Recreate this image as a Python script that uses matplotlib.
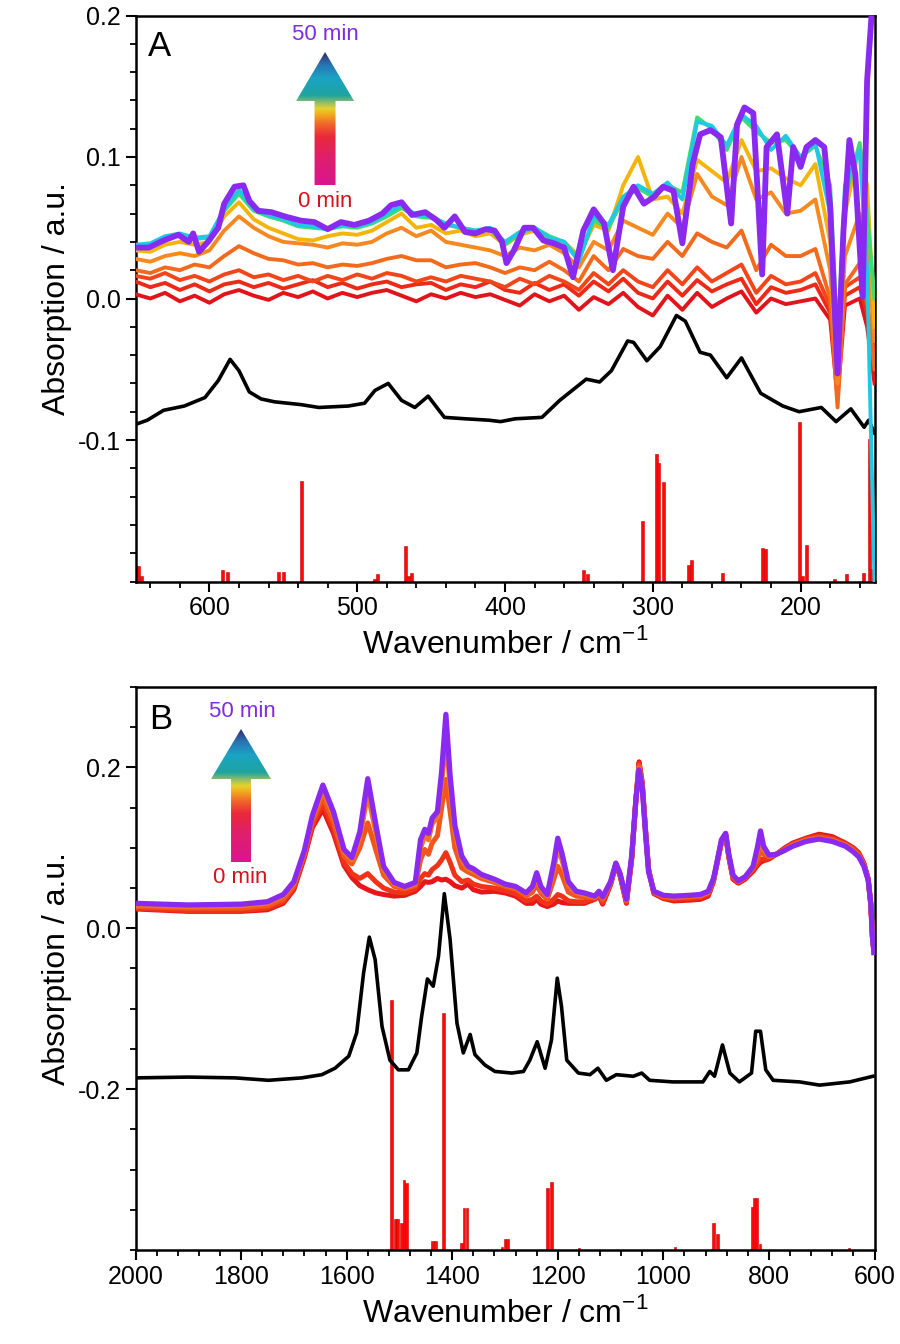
import numpy as np
import matplotlib
matplotlib.use("Agg")
import matplotlib.pyplot as plt
from matplotlib.patches import Polygon
from matplotlib.ticker import MultipleLocator, FormatStrFormatter
from matplotlib.colors import LinearSegmentedColormap

plt.rcParams['font.family'] = ['Liberation Sans', 'DejaVu Sans']
plt.rcParams['axes.unicode_minus'] = False

# ---------------- Panel A (far IR) ----------------
# reference spectrum (black)
a_ref_x = [650, 642, 631, 617, 603, 594, 586, 580, 573, 565, 556, 538, 526, 506, 495, 488, 479, 470, 461, 452,
           441, 427, 411, 403, 393, 375, 363, 345, 336, 328, 317, 313, 304, 295, 284, 278, 268, 261, 250, 240,
           227, 212, 201, 186, 176, 166, 157, 154, 150]
a_ref_y = [-0.089, -0.086, -0.079, -0.076, -0.070, -0.058, -0.043, -0.051, -0.066, -0.071, -0.073, -0.075, -0.077,
           -0.076, -0.074, -0.065, -0.060, -0.072, -0.077, -0.069, -0.084, -0.085, -0.086, -0.087, -0.085, -0.084,
           -0.072, -0.057, -0.059, -0.051, -0.030, -0.031, -0.044, -0.034, -0.012, -0.016, -0.038, -0.040, -0.056,
           -0.042, -0.067, -0.076, -0.080, -0.077, -0.087, -0.078, -0.091, -0.086, -0.095]

# 50 min spectrum (purple)
a_end_x = [650, 641, 631, 621, 614, 611, 607, 601, 594, 590, 583, 577, 573, 567, 558, 549, 538, 529, 520, 511,
           502, 492, 483, 477, 470, 463, 454, 447, 441, 434, 427, 420, 413, 407, 402, 399, 394, 387, 381, 374,
           367, 360, 354, 347, 340, 333, 327, 320, 313, 306, 299, 293, 286, 280, 273, 268, 261, 254, 247, 243,
           238, 232, 226, 223, 216, 209, 205, 200, 196, 190, 184, 180, 175, 171, 167, 163, 158, 155, 152, 150]
a_end_y = [0.036, 0.036, 0.041, 0.045, 0.040, 0.046, 0.033, 0.040, 0.050, 0.067, 0.079, 0.080, 0.069, 0.062, 0.061,
           0.058, 0.055, 0.054, 0.049, 0.054, 0.052, 0.055, 0.060, 0.066, 0.068, 0.059, 0.061, 0.056, 0.050, 0.058,
           0.047, 0.046, 0.049, 0.048, 0.040, 0.025, 0.034, 0.050, 0.050, 0.041, 0.039, 0.036, 0.015, 0.048, 0.063,
           0.053, 0.020, 0.065, 0.079, 0.067, 0.072, 0.079, 0.076, 0.039, 0.095, 0.116, 0.119, 0.114, 0.053, 0.123,
           0.135, 0.131, 0.017, 0.107, 0.116, 0.060, 0.107, 0.093, 0.107, 0.112, 0.107, 0.065, -0.053, 0.048, 0.112,
           0.088, 0.001, 0.154, 0.200, 0.210]

# intermediate spectra (0 min ... 40 min)
a_x = [650, 640, 630, 620, 610, 600, 590, 580, 570, 560,
       550, 540, 530, 520, 510, 500, 490, 480, 470, 460,
       450, 440, 430, 420, 410, 400, 390, 380, 370, 360,
       350, 340, 330, 320, 310, 300, 290, 280, 270, 260,
       250, 240, 230, 220, 210, 200, 190, 180, 175, 170,
       160, 155, 150]
a_t0 = [0.003, 0.000, 0.004, -0.002, 0.002, -0.003, 0.003, 0.006, 0.002, -0.001,
        0.004, 0.001, 0.005, 0.000, 0.004, 0.001, 0.004, 0.006, 0.002, -0.002,
        0.003, 0.000, 0.004, 0.001, 0.003, -0.001, -0.005, 0.003, -0.002, 0.002,
        -0.008, 0.001, -0.004, 0.004, -0.006, -0.012, 0.002, -0.008, 0.004, -0.006,
        0.000, 0.005, -0.010, 0.000, -0.004, -0.002, 0.000, -0.015, -0.070, -0.005,
        0.000, -0.020, -0.060]
a_t1 = [0.012, 0.008, 0.011, 0.006, 0.010, 0.005, 0.010, 0.012, 0.008, 0.011,
        0.007, 0.010, 0.013, 0.008, 0.011, 0.007, 0.010, 0.012, 0.008, 0.010,
        0.011, 0.006, 0.010, 0.008, 0.012, 0.006, 0.004, 0.011, 0.006, 0.010,
        0.002, 0.012, 0.005, 0.014, 0.004, 0.000, 0.012, 0.002, 0.013, 0.005,
        0.010, 0.014, -0.004, 0.008, 0.004, 0.006, 0.010, -0.010, -0.060, 0.002,
        0.008, -0.010, -0.050]
a_t2 = [0.016, 0.014, 0.018, 0.013, 0.016, 0.012, 0.017, 0.020, 0.015, 0.017,
        0.013, 0.016, 0.012, 0.016, 0.013, 0.017, 0.014, 0.018, 0.016, 0.012,
        0.015, 0.012, 0.016, 0.014, 0.012, 0.008, 0.014, 0.010, 0.016, 0.012,
        0.006, 0.018, 0.010, 0.020, 0.012, 0.008, 0.020, 0.010, 0.022, 0.012,
        0.018, 0.024, 0.004, 0.016, 0.010, 0.012, 0.018, -0.005, -0.060, 0.008,
        0.015, -0.005, -0.040]
a_t3 = [0.020, 0.018, 0.022, 0.020, 0.024, 0.022, 0.030, 0.037, 0.032, 0.028,
        0.027, 0.024, 0.025, 0.022, 0.024, 0.023, 0.025, 0.028, 0.030, 0.027,
        0.027, 0.022, 0.024, 0.025, 0.022, 0.018, 0.022, 0.020, 0.026, 0.020,
        0.012, 0.030, 0.020, 0.035, 0.030, 0.028, 0.040, 0.030, 0.046, 0.040,
        0.036, 0.048, 0.020, 0.038, 0.030, 0.030, 0.035, 0.000, -0.077, 0.010,
        0.025, 0.000, -0.050]
a_t4 = [0.028, 0.026, 0.030, 0.032, 0.030, 0.034, 0.048, 0.058, 0.050, 0.044,
        0.040, 0.039, 0.038, 0.036, 0.039, 0.038, 0.040, 0.046, 0.050, 0.044,
        0.048, 0.040, 0.038, 0.036, 0.034, 0.030, 0.036, 0.034, 0.038, 0.032,
        0.022, 0.040, 0.034, 0.055, 0.050, 0.045, 0.060, 0.050, 0.088, 0.072,
        0.066, 0.100, 0.070, 0.075, 0.060, 0.062, 0.070, 0.020, -0.060, 0.030,
        0.060, 0.040, -0.030]
a_t5 = [0.034, 0.033, 0.038, 0.040, 0.038, 0.040, 0.058, 0.068, 0.056, 0.050,
        0.046, 0.042, 0.041, 0.044, 0.046, 0.045, 0.048, 0.054, 0.060, 0.050,
        0.052, 0.046, 0.048, 0.044, 0.046, 0.038, 0.045, 0.048, 0.042, 0.040,
        0.030, 0.052, 0.048, 0.080, 0.100, 0.070, 0.072, 0.060, 0.098, 0.090,
        0.082, 0.112, 0.090, 0.092, 0.085, 0.080, 0.095, 0.040, -0.040, 0.060,
        0.108, 0.080, -0.020]
a_t6 = [0.037, 0.038, 0.043, 0.045, 0.042, 0.043, 0.062, 0.074, 0.062, 0.058,
        0.055, 0.051, 0.050, 0.049, 0.051, 0.050, 0.053, 0.058, 0.064, 0.058,
        0.057, 0.052, 0.050, 0.048, 0.049, 0.038, 0.046, 0.050, 0.044, 0.040,
        0.028, 0.055, 0.050, 0.070, 0.078, 0.072, 0.080, 0.075, 0.128, 0.120,
        0.105, 0.128, 0.118, 0.110, 0.112, 0.100, 0.108, 0.080, -0.030, 0.070,
        0.110, 0.060, 0.000]
a_t7 = [0.038, 0.039, 0.044, 0.046, 0.043, 0.044, 0.063, 0.077, 0.063, 0.059,
        0.056, 0.052, 0.051, 0.049, 0.052, 0.051, 0.054, 0.060, 0.066, 0.059,
        0.058, 0.053, 0.050, 0.048, 0.050, 0.040, 0.047, 0.050, 0.043, 0.040,
        0.026, 0.058, 0.052, 0.072, 0.080, 0.074, 0.082, 0.070, 0.125, 0.122,
        0.108, 0.130, 0.122, 0.105, 0.115, 0.100, 0.110, 0.060, -0.040, 0.080,
        0.105, 0.020, -0.200]
a_series = [a_t0, a_t1, a_t2, a_t3, a_t4, a_t5, a_t6, a_t7]
a_colors = ['#e2141b', '#ec2a17', '#f2461a', '#f26a1e', '#f5891f', '#f4b40a', '#3ddc6e', '#1fc9e6']

# calculated modes (sticks)
a_stick_x = [648, 646, 591, 588, 553, 550, 538, 488, 486, 467, 465, 463, 347, 344, 307, 297.5, 296, 293,
             276, 274, 253, 225.5, 224, 200.5, 199, 196, 177, 169, 157.5, 153.5, 152]
a_stick_top = [-0.189, -0.196, -0.192, -0.193, -0.193, -0.193, -0.129, -0.198, -0.195, -0.175, -0.196, -0.194,
               -0.192, -0.195, -0.157, -0.110, -0.116, -0.130, -0.188, -0.185, -0.194, -0.176, -0.177, -0.087,
               -0.196, -0.174, -0.198, -0.195, -0.194, -0.099, -0.191]

# ---------------- Panel B (mid IR) ----------------
b_ref_x = [2000, 1900, 1811, 1748, 1685, 1647, 1622, 1596, 1581, 1568, 1557, 1546, 1533, 1518, 1502, 1483, 1467,
           1458, 1447, 1436, 1426, 1415, 1404, 1391, 1379, 1366, 1357, 1338, 1319, 1287, 1265, 1253, 1239, 1224,
           1212, 1201, 1193, 1183, 1161, 1139, 1124, 1108, 1089, 1057, 1041, 1026, 982, 925, 912, 903, 888, 874,
           856, 833, 825, 816, 806, 792, 742, 704, 647, 603]
b_ref_y = [-0.186, -0.185, -0.186, -0.189, -0.186, -0.182, -0.174, -0.159, -0.130, -0.056, -0.011, -0.039,
           -0.122, -0.164, -0.176, -0.176, -0.155, -0.110, -0.063, -0.072, -0.035, 0.043, -0.014, -0.118,
           -0.155, -0.132, -0.157, -0.170, -0.178, -0.180, -0.178, -0.164, -0.141, -0.174, -0.139, -0.062,
           -0.097, -0.164, -0.180, -0.182, -0.174, -0.189, -0.182, -0.184, -0.180, -0.189, -0.191, -0.191,
           -0.178, -0.184, -0.145, -0.180, -0.191, -0.180, -0.128, -0.128, -0.176, -0.189, -0.191, -0.195,
           -0.191, -0.184]

b_x = [2000, 1900, 1800, 1750, 1720, 1700, 1680, 1665, 1645, 1625,
       1605, 1590, 1575, 1560, 1545, 1530, 1510, 1490, 1470, 1460,
       1452, 1445, 1438, 1428, 1420, 1412, 1404, 1395, 1382, 1370,
       1360, 1345, 1320, 1300, 1280, 1260, 1248, 1240, 1232, 1220,
       1208, 1200, 1192, 1180, 1165, 1150, 1130, 1122, 1115, 1100,
       1090, 1082, 1070, 1060, 1052, 1046, 1040, 1034, 1028, 1018,
       1000, 980, 950, 930, 915, 905, 900, 890, 882, 876,
       868, 858, 845, 830, 822, 816, 810, 800, 786, 770,
       755, 730, 705, 680, 655, 640, 630, 620, 612, 607,
       604, 601]
b_t0 = [0.024, 0.021, 0.021, 0.023, 0.031, 0.048, 0.088, 0.125, 0.148, 0.118,
        0.078, 0.063, 0.053, 0.048, 0.044, 0.042, 0.040, 0.041, 0.046, 0.052,
        0.058, 0.057, 0.058, 0.062, 0.060, 0.061, 0.058, 0.053, 0.050, 0.055,
        0.048, 0.045, 0.046, 0.044, 0.040, 0.031, 0.031, 0.036, 0.030, 0.027,
        0.030, 0.034, 0.032, 0.031, 0.031, 0.031, 0.036, 0.040, 0.030, 0.054,
        0.079, 0.065, 0.031, 0.085, 0.160, 0.207, 0.182, 0.125, 0.074, 0.043,
        0.037, 0.034, 0.035, 0.036, 0.040, 0.058, 0.075, 0.106, 0.115, 0.088,
        0.061, 0.056, 0.061, 0.071, 0.078, 0.082, 0.084, 0.086, 0.092, 0.100,
        0.106, 0.112, 0.117, 0.114, 0.106, 0.100, 0.094, 0.081, 0.062, 0.030,
        -0.010, -0.030]
b_t1 = [0.025, 0.022, 0.022, 0.025, 0.033, 0.050, 0.090, 0.128, 0.155, 0.124,
        0.082, 0.068, 0.062, 0.068, 0.058, 0.050, 0.045, 0.044, 0.049, 0.062,
        0.068, 0.066, 0.073, 0.078, 0.085, 0.094, 0.082, 0.066, 0.058, 0.060,
        0.055, 0.052, 0.050, 0.047, 0.043, 0.034, 0.036, 0.040, 0.034, 0.030,
        0.036, 0.042, 0.040, 0.034, 0.033, 0.033, 0.037, 0.041, 0.032, 0.055,
        0.080, 0.066, 0.032, 0.087, 0.160, 0.205, 0.180, 0.124, 0.073, 0.044,
        0.038, 0.036, 0.037, 0.038, 0.042, 0.059, 0.076, 0.107, 0.116, 0.089,
        0.062, 0.057, 0.062, 0.073, 0.080, 0.086, 0.086, 0.087, 0.092, 0.099,
        0.105, 0.111, 0.115, 0.112, 0.105, 0.099, 0.093, 0.080, 0.061, 0.030,
        -0.010, -0.030]
b_t2 = [0.027, 0.025, 0.025, 0.028, 0.036, 0.053, 0.093, 0.133, 0.163, 0.132,
        0.090, 0.080, 0.100, 0.131, 0.098, 0.066, 0.052, 0.049, 0.053, 0.085,
        0.098, 0.092, 0.106, 0.115, 0.150, 0.185, 0.145, 0.100, 0.075, 0.070,
        0.067, 0.062, 0.057, 0.052, 0.049, 0.040, 0.045, 0.054, 0.044, 0.036,
        0.060, 0.077, 0.066, 0.045, 0.040, 0.039, 0.038, 0.043, 0.035, 0.056,
        0.080, 0.067, 0.034, 0.088, 0.160, 0.202, 0.178, 0.122, 0.072, 0.045,
        0.039, 0.038, 0.039, 0.040, 0.044, 0.060, 0.076, 0.108, 0.117, 0.090,
        0.064, 0.058, 0.063, 0.075, 0.085, 0.098, 0.092, 0.089, 0.092, 0.098,
        0.104, 0.110, 0.113, 0.110, 0.104, 0.097, 0.091, 0.079, 0.061, 0.030,
        -0.010, -0.030]
b_t3 = [0.029, 0.027, 0.028, 0.031, 0.040, 0.056, 0.095, 0.137, 0.172, 0.140,
        0.095, 0.085, 0.112, 0.168, 0.120, 0.073, 0.055, 0.051, 0.055, 0.100,
        0.115, 0.110, 0.130, 0.138, 0.180, 0.239, 0.175, 0.118, 0.085, 0.074,
        0.071, 0.065, 0.059, 0.054, 0.051, 0.043, 0.050, 0.064, 0.049, 0.040,
        0.072, 0.100, 0.085, 0.054, 0.044, 0.042, 0.039, 0.045, 0.038, 0.057,
        0.081, 0.068, 0.035, 0.089, 0.160, 0.199, 0.176, 0.121, 0.071, 0.046,
        0.040, 0.039, 0.040, 0.041, 0.045, 0.061, 0.077, 0.109, 0.118, 0.091,
        0.065, 0.059, 0.064, 0.076, 0.095, 0.112, 0.098, 0.090, 0.092, 0.097,
        0.103, 0.109, 0.112, 0.109, 0.103, 0.096, 0.090, 0.078, 0.060, 0.030,
        -0.010, -0.030]
b_end = [0.031, 0.029, 0.030, 0.033, 0.042, 0.058, 0.097, 0.140, 0.178, 0.145,
         0.098, 0.088, 0.120, 0.186, 0.130, 0.077, 0.057, 0.052, 0.057, 0.110,
         0.123, 0.118, 0.137, 0.145, 0.195, 0.266, 0.190, 0.128, 0.090, 0.077,
         0.074, 0.067, 0.061, 0.055, 0.052, 0.044, 0.052, 0.069, 0.052, 0.042,
         0.080, 0.112, 0.093, 0.058, 0.046, 0.044, 0.040, 0.046, 0.039, 0.058,
         0.081, 0.068, 0.036, 0.090, 0.160, 0.197, 0.175, 0.120, 0.070, 0.046,
         0.041, 0.040, 0.041, 0.042, 0.046, 0.062, 0.077, 0.110, 0.118, 0.092,
         0.066, 0.059, 0.064, 0.077, 0.100, 0.121, 0.102, 0.091, 0.092, 0.097,
         0.102, 0.108, 0.111, 0.108, 0.102, 0.095, 0.089, 0.077, 0.060, 0.030,
         -0.010, -0.030]
b_series = [b_t0, b_t1, b_t2, b_t3]
b_colors = ['#e8161a', '#ef3318', '#f2561d', '#f47322']

b_stick_x = [1515, 1508, 1504, 1496, 1491, 1486, 1437, 1432, 1416, 1383, 1378, 1372, 1306, 1300, 1295,
             1219, 1212, 1160, 978, 905, 898, 832, 828, 823, 817, 648]
b_stick_top = [-0.089, -0.362, -0.362, -0.367, -0.313, -0.317, -0.389, -0.389, -0.105, -0.391, -0.348, -0.348,
               -0.396, -0.386, -0.386, -0.323, -0.316, -0.397, -0.396, -0.367, -0.380, -0.346, -0.335, -0.335,
               -0.392, -0.397]

purple = '#8a2af0'
arrow_cmap = LinearSegmentedColormap.from_list('arrow', [
    (0.0, '#d8168e'), (0.22, '#e01f6a'), (0.36, '#ea283a'), (0.46, '#f06a2a'), (0.53, '#f2ae1e'),
    (0.57, '#e6d22e'), (0.61, '#9cc060'), (0.67, '#1fa3a0'), (0.8, '#1aa4c4'), (0.9, '#2a72b2'),
    (1.0, '#30286e')])


def gradient_arrow(ax, xc, y0, y1, yh, shaft_w, head_w):
    pts = [(xc - shaft_w / 2, y0), (xc + shaft_w / 2, y0), (xc + shaft_w / 2, yh), (xc + head_w / 2, yh),
           (xc, y1), (xc - head_w / 2, yh), (xc - shaft_w / 2, yh)]
    poly = Polygon(pts, closed=True, transform=ax.transAxes, facecolor='none', edgecolor='none')
    ax.add_patch(poly)
    grad = np.linspace(0, 1, 256).reshape(-1, 1)
    im = ax.imshow(grad, cmap=arrow_cmap, origin='lower', aspect='auto',
                   extent=[xc - head_w / 2, xc + head_w / 2, y0, y1], transform=ax.transAxes, zorder=6)
    im.set_clip_path(poly)


def style_axes(ax):
    for s in ax.spines.values():
        s.set_linewidth(1.8)
    ax.tick_params(which='major', direction='out', length=7, width=1.5, labelsize=18, top=False, right=False)
    ax.tick_params(which='minor', direction='out', length=4, width=1.3, top=False, right=False)
    ax.set_ylabel('Absorption / a.u.', fontsize=23)
    ax.set_xlabel(r'Wavenumber / cm$^{\mathregular{-1}}$', fontsize=23, labelpad=6)


fig = plt.figure(figsize=(9, 13.44), dpi=100)
axA = fig.add_axes([135.5 / 900, 1 - 581.5 / 1344, 739 / 900, 566 / 1344])
axB = fig.add_axes([135.5 / 900, 1 - 1250 / 1344, 739 / 900, 563 / 1344])

# panel A
axA.bar(a_stick_x, np.array(a_stick_top) + 0.2, bottom=-0.2, width=2.0, color='#ff0a0a',
        edgecolor='#c80000', linewidth=0.4, zorder=2)
axA.plot(a_ref_x, a_ref_y, color='black', lw=2.6, zorder=3)
for yy, c in zip(a_series, a_colors):
    axA.plot(a_x, yy, color=c, lw=2.8, zorder=3)
axA.plot(a_end_x, a_end_y, color=purple, lw=4.2, zorder=4)
axA.set_xticks([600, 500, 400, 300, 200])
axA.xaxis.set_minor_locator(MultipleLocator(20))
axA.set_yticks([-0.1, 0.0, 0.1, 0.2])
axA.yaxis.set_minor_locator(MultipleLocator(0.02))
axA.yaxis.set_major_formatter(FormatStrFormatter('%.1f'))
style_axes(axA)
gradient_arrow(axA, 0.2565, 0.7005, 0.9355, 0.849, 0.0284, 0.0785)
axA.text(0.2565, 0.966, '50 min', color='#7f2ce0', fontsize=16, ha='center', va='center', transform=axA.transAxes)
axA.text(0.2565, 0.672, '0 min', color='#d4121c', fontsize=16, ha='center', va='center', transform=axA.transAxes)
axA.text(0.032, 0.946, 'A', fontsize=25, ha='center', va='center', transform=axA.transAxes)
axA.set_xlim(650, 150)
axA.set_ylim(-0.2, 0.2)

# panel B
axB.bar(b_stick_x, np.array(b_stick_top) + 0.4, bottom=-0.4, width=5.0, color='#ff0a0a',
        edgecolor='#c80000', linewidth=0.4, zorder=2)
axB.plot(b_ref_x, b_ref_y, color='black', lw=2.6, zorder=3)
for yy, c in zip(b_series, b_colors):
    axB.plot(b_x, yy, color=c, lw=3.6, zorder=3)
axB.plot(b_x, b_end, color=purple, lw=3.8, zorder=4)
axB.xaxis.set_major_locator(MultipleLocator(200))
axB.xaxis.set_minor_locator(MultipleLocator(40))
axB.set_yticks([-0.2, 0.0, 0.2])
axB.yaxis.set_minor_locator(MultipleLocator(0.05))
axB.yaxis.set_major_formatter(FormatStrFormatter('%.1f'))
style_axes(axB)
gradient_arrow(axB, 0.1428, 0.689, 0.9254, 0.8366, 0.027, 0.0812)
axB.text(0.144, 0.956, '50 min', color='#7f2ce0', fontsize=16, ha='center', va='center', transform=axB.transAxes)
axB.text(0.1414, 0.661, '0 min', color='#d4121c', fontsize=16, ha='center', va='center', transform=axB.transAxes)
axB.text(0.034, 0.943, 'B', fontsize=25, ha='center', va='center', transform=axB.transAxes)
axB.set_xlim(2000, 600)
axB.set_ylim(-0.4, 0.3)

fig.savefig('out.png', dpi=100)
